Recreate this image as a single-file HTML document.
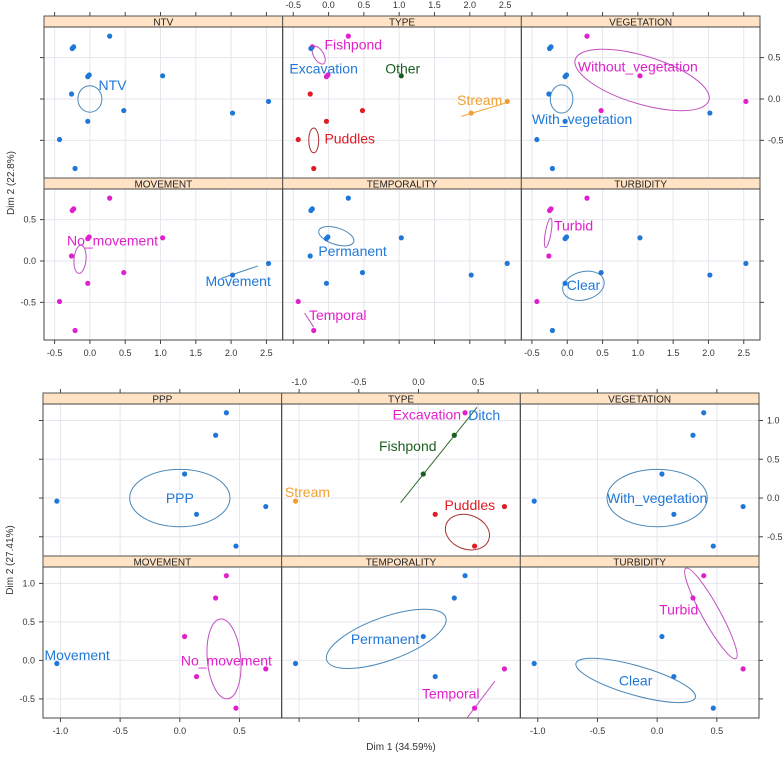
<!DOCTYPE html>
<html><head><meta charset="utf-8">
<style>
html,body{margin:0;padding:0;background:#fff;}
svg{display:block;font-family:"Liberation Sans",sans-serif;}
</style></head>
<body>
<svg id="chart" width="784" height="762" viewBox="0 0 784 762" xmlns="http://www.w3.org/2000/svg"></svg>
<script>
// ---------- Data: top figure (13 individuals) ----------
const dim1A = [0.28,-0.23,-0.25,-0.01,-0.03,1.03,-0.26,0.48,-0.03,-0.43,-0.21,2.02,2.53];
const dim2A = [0.76,0.63,0.61,0.29,0.27,0.28,0.06,-0.14,-0.27,-0.49,-0.84,-0.17,-0.03];
const titlesA = ["NTV","TYPE","VEGETATION","MOVEMENT","TEMPORALITY","TURBIDITY"];
const groupsA = ["bbbbbbbbbbbbb","mmbmmgrrrrroo","mbbbbmbmbbbbm","mmmmmmmmmmmbb","bbbbbbbbbmmbb","mmmbbbmbbmbbb"];
const xTicksA = [-0.5,0,0.5,1,1.5,2,2.5];
const yTicksA = [-0.5,0,0.5];
// labels: [panel, text, colour, x, y]
const labelsA = [
 [0,"NTV","b",0.32,0.17],[1,"Fishpond","m",0.35,0.66],[1,"Excavation","b",-0.07,0.37],
 [1,"Other","g",1.05,0.37],[1,"Stream","o",2.14,-0.01],[1,"Puddles","r",0.3,-0.48],
 [2,"Without_vegetation","m",1.0,0.39],[2,"With_vegetation","b",0.21,-0.24],
 [3,"No_movement","m",0.32,0.25],[3,"Movement","b",2.1,-0.24],
 [4,"Permanent","b",0.34,0.12],[4,"Temporal","m",0.13,-0.65],
 [5,"Turbid","m",0.09,0.43],[5,"Clear","b",0.23,-0.29]];
// ellipses: [panel, cx, cy, rx, ry, angle, colour]
const ellipsesA = [
 [0,0,0,0.17,0.16,0,"b"],[1,-0.14,0.53,0.07,0.12,-30,"m"],[1,-0.21,-0.5,0.07,0.15,0,"r"],
 [2,1.06,0.23,0.99,0.29,17,"m"],[2,-0.08,0,0.16,0.17,0,"b"],[3,-0.14,0.02,0.085,0.17,5,"m"],
 [4,0.11,0.3,0.26,0.1,18,"b"],[5,-0.27,0.34,0.04,0.18,10,"m"],[5,0.23,-0.3,0.3,0.17,-15,"b"]];
// degenerate ellipses drawn as segments: [panel, x1,y1,x2,y2, colour]
const segsA = [[1,1.88,-0.21,2.54,-0.04,"o"],[3,1.86,-0.21,2.38,-0.06,"b"],[4,-0.34,-0.63,-0.21,-0.8,"m"]];

// ---------- Data: bottom figure (7 individuals) ----------
const dim1B = [0.39,0.30,0.04,-1.03,0.14,0.72,0.47];
const dim2B = [1.10,0.81,0.31,-0.04,-0.21,-0.11,-0.62];
const titlesB = ["PPP","TYPE","VEGETATION","MOVEMENT","TEMPORALITY","TURBIDITY"];
const groupsB = ["bbbbbbb","mggorrr","bbbbbbb","mmmbmmm","bbbbbmm","mmbbbmb"];
const xTicksB = [-1,-0.5,0,0.5];
const yTicksB = [-0.5,0,0.5,1];
const labelsB = [
 [0,"PPP","b",0,0],[1,"Excavation","m",0.07,1.08],[1,"Ditch","b",0.55,1.07],
 [1,"Fishpond","g",-0.09,0.67],[1,"Stream","o",-0.93,0.08],[1,"Puddles","r",0.43,-0.09],
 [2,"With_vegetation","b",0,0],[3,"Movement","b",-0.86,0.07],[3,"No_movement","m",0.39,0.0],
 [4,"Permanent","b",-0.28,0.28],[4,"Temporal","m",0.27,-0.43],
 [5,"Turbid","m",0.18,0.66],[5,"Clear","b",-0.18,-0.26]];
const ellipsesB = [
 [0,0,0,0.42,0.37,0,"b"],[1,0.41,-0.44,0.19,0.22,20,"r"],[2,0,0,0.42,0.37,0,"b"],
 [3,0.37,0.02,0.14,0.52,-5,"m"],[4,-0.27,0.28,0.53,0.28,-20,"b"],
 [5,0.45,0.61,0.075,0.67,-29,"m"],[5,-0.18,-0.26,0.52,0.19,16,"b"]];
const segsB = [[1,-0.15,-0.06,0.49,1.17,"g"],[4,0.41,-0.74,0.64,-0.27,"m"]];

const PT = {b:"#1f78d8",m:"#e020cc",r:"#dd1c24",g:"#1b5e20",o:"#f0a030"};
const EL = {b:"#4a88b8",m:"#c050c0",r:"#a83030",g:"#2e6b2e",o:"#f0a030"};

const svg = document.getElementById("chart");
const NS = "http://www.w3.org/2000/svg";
function mk(tag, attrs, parent){
  const e = document.createElementNS(NS, tag);
  for (const k in attrs) e.setAttribute(k, attrs[k]);
  (parent||svg).appendChild(e);
  return e;
}
function fmt(v){ return v.toFixed(1); }

function drawFigure(cfg){
  const fig = mk("g", {});
  
  
  const colW = (cfg.right - cfg.left)/3;
  const xs = colW/(cfg.xlim[1]-cfg.xlim[0]);
  for (let p=0;p<6;p++){
    const col = p%3, row = Math.floor(p/3);
    const x0 = cfg.left + col*colW;
    const st = cfg.strips[row], top = cfg.rows[row][0], bot = cfg.rows[row][1];
    const ys = (bot-top)/(cfg.ylim[1]-cfg.ylim[0]);
    const X = v => x0 + (v-cfg.xlim[0])*xs;
    const Y = v => top + (cfg.ylim[1]-v)*ys;
    const g = mk("g", {}, fig);
    
    
    // grid
    cfg.xt.forEach(t=>{ mk("line",{x1:X(t),x2:X(t),y1:top,y2:bot,stroke:"#e6e6ee","stroke-width":1},g); });
    cfg.yt.forEach(t=>{ mk("line",{x1:x0,x2:x0+colW,y1:Y(t),y2:Y(t),stroke:"#e6e6ee","stroke-width":1},g); });
    // strip
    const strip = mk("rect",{x:x0,y:st,width:colW,height:top-st,fill:"#ffe3c4",stroke:"#555","stroke-width":1},g);
    
    
    const stt = mk("text",{x:x0+colW/2,y:(st+top)/2+4,"text-anchor":"middle","font-size":10,fill:"#222"},g);
    stt.textContent = cfg.titles[p];
    
    
    // ellipses
    cfg.ell.filter(e=>e[0]===p).forEach(e=>{
      const el = mk("ellipse",{cx:X(e[1]),cy:Y(e[2]),rx:e[3]*xs,ry:e[4]*ys,fill:"none",stroke:EL[e[6]],"stroke-width":1,
        transform:`rotate(${e[5]} ${X(e[1])} ${Y(e[2])})`},g);
      
      
    });
    cfg.segs.filter(s=>s[0]===p).forEach(s=>{
      const ln = mk("line",{x1:X(s[1]),y1:Y(s[2]),x2:X(s[3]),y2:Y(s[4]),stroke:EL[s[5]],"stroke-width":1},g);
      
      
    });
    // points
    cfg.d1.forEach((v,i)=>{
      const c = mk("circle",{cx:X(v),cy:Y(cfg.d2[i]),r:2.6,fill:PT[cfg.groups[p][i]]},g);
      
      
    });
    // labels
    cfg.labels.filter(l=>l[0]===p).forEach(l=>{
      const t = mk("text",{x:X(l[3]),y:Y(l[4])+5,"text-anchor":"middle","font-size":14,fill:PT[l[2]]},g);
      t.textContent = l[1];
      
      
    });
    // frame
    mk("rect",{x:x0,y:top,width:colW,height:bot-top,fill:"none",stroke:"#444","stroke-width":1},g);
    // x axes
    if (row===0){
      cfg.xt.forEach(t=>{
        mk("line",{x1:X(t),x2:X(t),y1:st,y2:st-4,stroke:"#444"},g);
        if (col===1){ const tx = mk("text",{x:X(t),y:st-8,"text-anchor":"middle","font-size":9,fill:"#333"},g); tx.textContent=fmt(t);
            }
      });
    } else {
      cfg.xt.forEach(t=>{
        mk("line",{x1:X(t),x2:X(t),y1:bot,y2:bot+4,stroke:"#444"},g);
        if (col!==1){ const tx = mk("text",{x:X(t),y:bot+16,"text-anchor":"middle","font-size":9,fill:"#333"},g); tx.textContent=fmt(t);
            }
      });
    }
    // y axes
    if (col===0){
      cfg.yt.forEach(t=>{
        mk("line",{x1:x0,x2:x0-4,y1:Y(t),y2:Y(t),stroke:"#444"},g);
        if (row===1){ const ty = mk("text",{x:x0-8,y:Y(t)+3,"text-anchor":"end","font-size":9,fill:"#333"},g); ty.textContent=fmt(t);
            }
      });
    }
    if (col===2){
      cfg.yt.forEach(t=>{
        mk("line",{x1:x0+colW,x2:x0+colW+4,y1:Y(t),y2:Y(t),stroke:"#444"},g);
        if (row===0){ const ty = mk("text",{x:x0+colW+8,y:Y(t)+3,"text-anchor":"start","font-size":9,fill:"#333"},g); ty.textContent=fmt(t);
            }
      });
    }
  }
}

drawFigure({name:"mca-figure-top",left:44,right:760,strips:[16,178],rows:[[27,178],[189,340]],
  xlim:[-0.65,2.73],ylim:[-0.955,0.87],xt:xTicksA,yt:yTicksA,d1:dim1A,d2:dim2A,
  groups:groupsA,titles:titlesA,labels:labelsA,ell:ellipsesA,segs:segsA});
drawFigure({name:"mca-figure-bottom",left:43,right:759,strips:[393,556],rows:[[404,556],[567,718]],
  xlim:[-1.146,0.853],ylim:[-0.748,1.213],xt:xTicksB,yt:yTicksB,d1:dim1B,d2:dim2B,
  groups:groupsB,titles:titlesB,labels:labelsB,ell:ellipsesB,segs:segsB});

function axisTitle(txt,x,y,rot,name){
  const t = mk("text",{x:x,y:y,"text-anchor":"middle","font-size":10,fill:"#333",transform:rot?`rotate(-90 ${x} ${y})`:""});
  t.textContent = txt;
  
  
}
axisTitle("Dim 2 (22.8%)",14,183,true,"y-axis-title-top");
axisTitle("Dim 2 (27.41%)",13,560,true,"y-axis-title-bottom");
axisTitle("Dim 1 (34.59%)",401,750,false,"x-axis-title");
</script>
</body></html>
